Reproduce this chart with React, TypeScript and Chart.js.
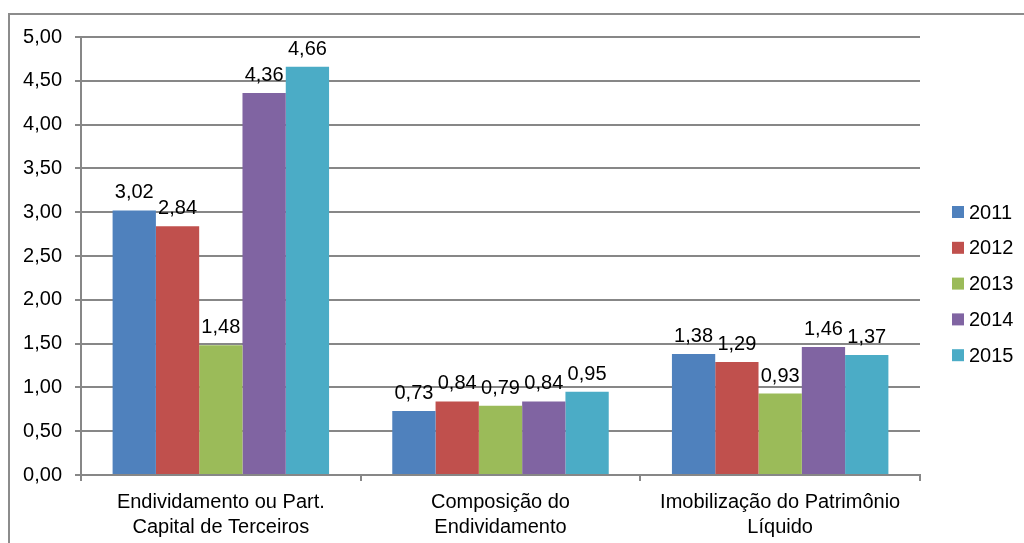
import React, { useEffect, useRef } from "react";
import { Chart, registerables } from "chart.js";

Chart.register(...registerables);

const categories: string[][] = [
  ["Endividamento ou Part.", "Capital de Terceiros"],
  ["Composição do", "Endividamento"],
  ["Imobilização do Patrimônio", "Líquido"],
];
const seriesNames = ["2011", "2012", "2013", "2014", "2015"];
const values2011 = [3.02, 0.73, 1.38];
const values2012 = [2.84, 0.84, 1.29];
const values2013 = [1.48, 0.79, 0.93];
const values2014 = [4.36, 0.84, 1.46];
const values2015 = [4.66, 0.95, 1.37];
const seriesValues = [values2011, values2012, values2013, values2014, values2015];
const seriesColors = ["#4F81BD", "#C0504D", "#9BBB59", "#8064A2", "#4BACC6"];
const yMin = 0;
const yMax = 5;
const yStep = 0.5;

const FONT = "'Liberation Sans', Arial, sans-serif";
const GRID = "#878787";

const fmt = (v: number) => v.toFixed(2).replace(".", ",");

const labelPlugin = {
  id: "valueLabels",
  afterDatasetsDraw(chart: any) {
    const ctx = chart.ctx;
    ctx.save();
    ctx.font = `20px ${FONT}`;
    ctx.fillStyle = "#000";
    ctx.textAlign = "center";
    ctx.textBaseline = "alphabetic";
    chart.data.datasets.forEach((ds: any, i: number) => {
      const meta = chart.getDatasetMeta(i);
      meta.data.forEach((bar: any, j: number) => {
        ctx.fillText(fmt(ds.data[j]), bar.x, bar.y - 12);
      });
    });
    ctx.restore();
  },
};

const legendPlugin = {
  id: "sideLegend",
  afterDraw(chart: any) {
    const ctx = chart.ctx;
    ctx.save();
    ctx.font = `20px ${FONT}`;
    ctx.textBaseline = "middle";
    ctx.textAlign = "left";
    chart.data.datasets.forEach((ds: any, i: number) => {
      const cy = 212 + i * 35.8;
      ctx.fillStyle = ds.backgroundColor;
      ctx.fillRect(952, cy - 6, 12, 12);
      ctx.fillStyle = "#000";
      ctx.fillText(ds.label, 969, cy + 1);
    });
    ctx.restore();
  },
};

export default function App() {
  const ref = useRef<HTMLCanvasElement | null>(null);

  useEffect(() => {
    if (!ref.current) return;
    const chart = new Chart(ref.current, {
      type: "bar",
      data: {
        labels: categories,
        datasets: seriesNames.map((name, i) => ({
          label: name,
          data: seriesValues[i],
          backgroundColor: seriesColors[i],
          borderWidth: 0,
          categoryPercentage: 0.774,
          barPercentage: 1,
        })),
      },
      options: {
        responsive: false,
        animation: false,
        layout: { padding: { top: 37, right: 104, bottom: 0, left: 0 } },
        plugins: {
          legend: { display: false },
          tooltip: { enabled: false },
        },
        scales: {
          x: {
            grid: {
              display: true,
              drawOnChartArea: false,
              drawTicks: true,
              tickLength: 6,
              color: GRID,
              lineWidth: 2,
              offset: true,
            },
            border: { display: true, color: GRID, width: 2 },
            ticks: {
              color: "#000",
              font: { family: FONT, size: 20, lineHeight: 1.25 },
              padding: 9,
              maxRotation: 0,
              autoSkip: false,
            },
            afterFit: (s: any) => {
              s.height = 68;
            },
          },
          y: {
            min: yMin,
            max: yMax,
            ticks: {
              stepSize: yStep,
              color: "#000",
              font: { family: FONT, size: 20 },
              padding: 13,
              callback: (v: any) => fmt(Number(v)),
            },
            grid: {
              color: GRID,
              lineWidth: 2,
              drawTicks: true,
              tickLength: 6,
            },
            border: { display: true, color: GRID, width: 2 },
            afterFit: (s: any) => {
              s.width = 81;
            },
          },
        },
      },
      plugins: [labelPlugin, legendPlugin],
    });
    return () => chart.destroy();
  }, []);

  return (
    <div
      style={{
        position: "absolute",
        left: 0,
        top: 0,
        width: 1024,
        height: 543,
        overflow: "hidden",
        background: "#fff",
      }}
    >
      <div
        style={{
          position: "absolute",
          left: 8,
          top: 13,
          width: 1100,
          height: 600,
          borderTop: "2px solid #8c8c8c",
          borderLeft: "2px solid #8c8c8c",
        }}
      />
      <canvas
        ref={ref}
        width={1024}
        height={543}
        style={{ position: "absolute", left: 0, top: 0, width: 1024, height: 543 }}
      />
    </div>
  );
}
